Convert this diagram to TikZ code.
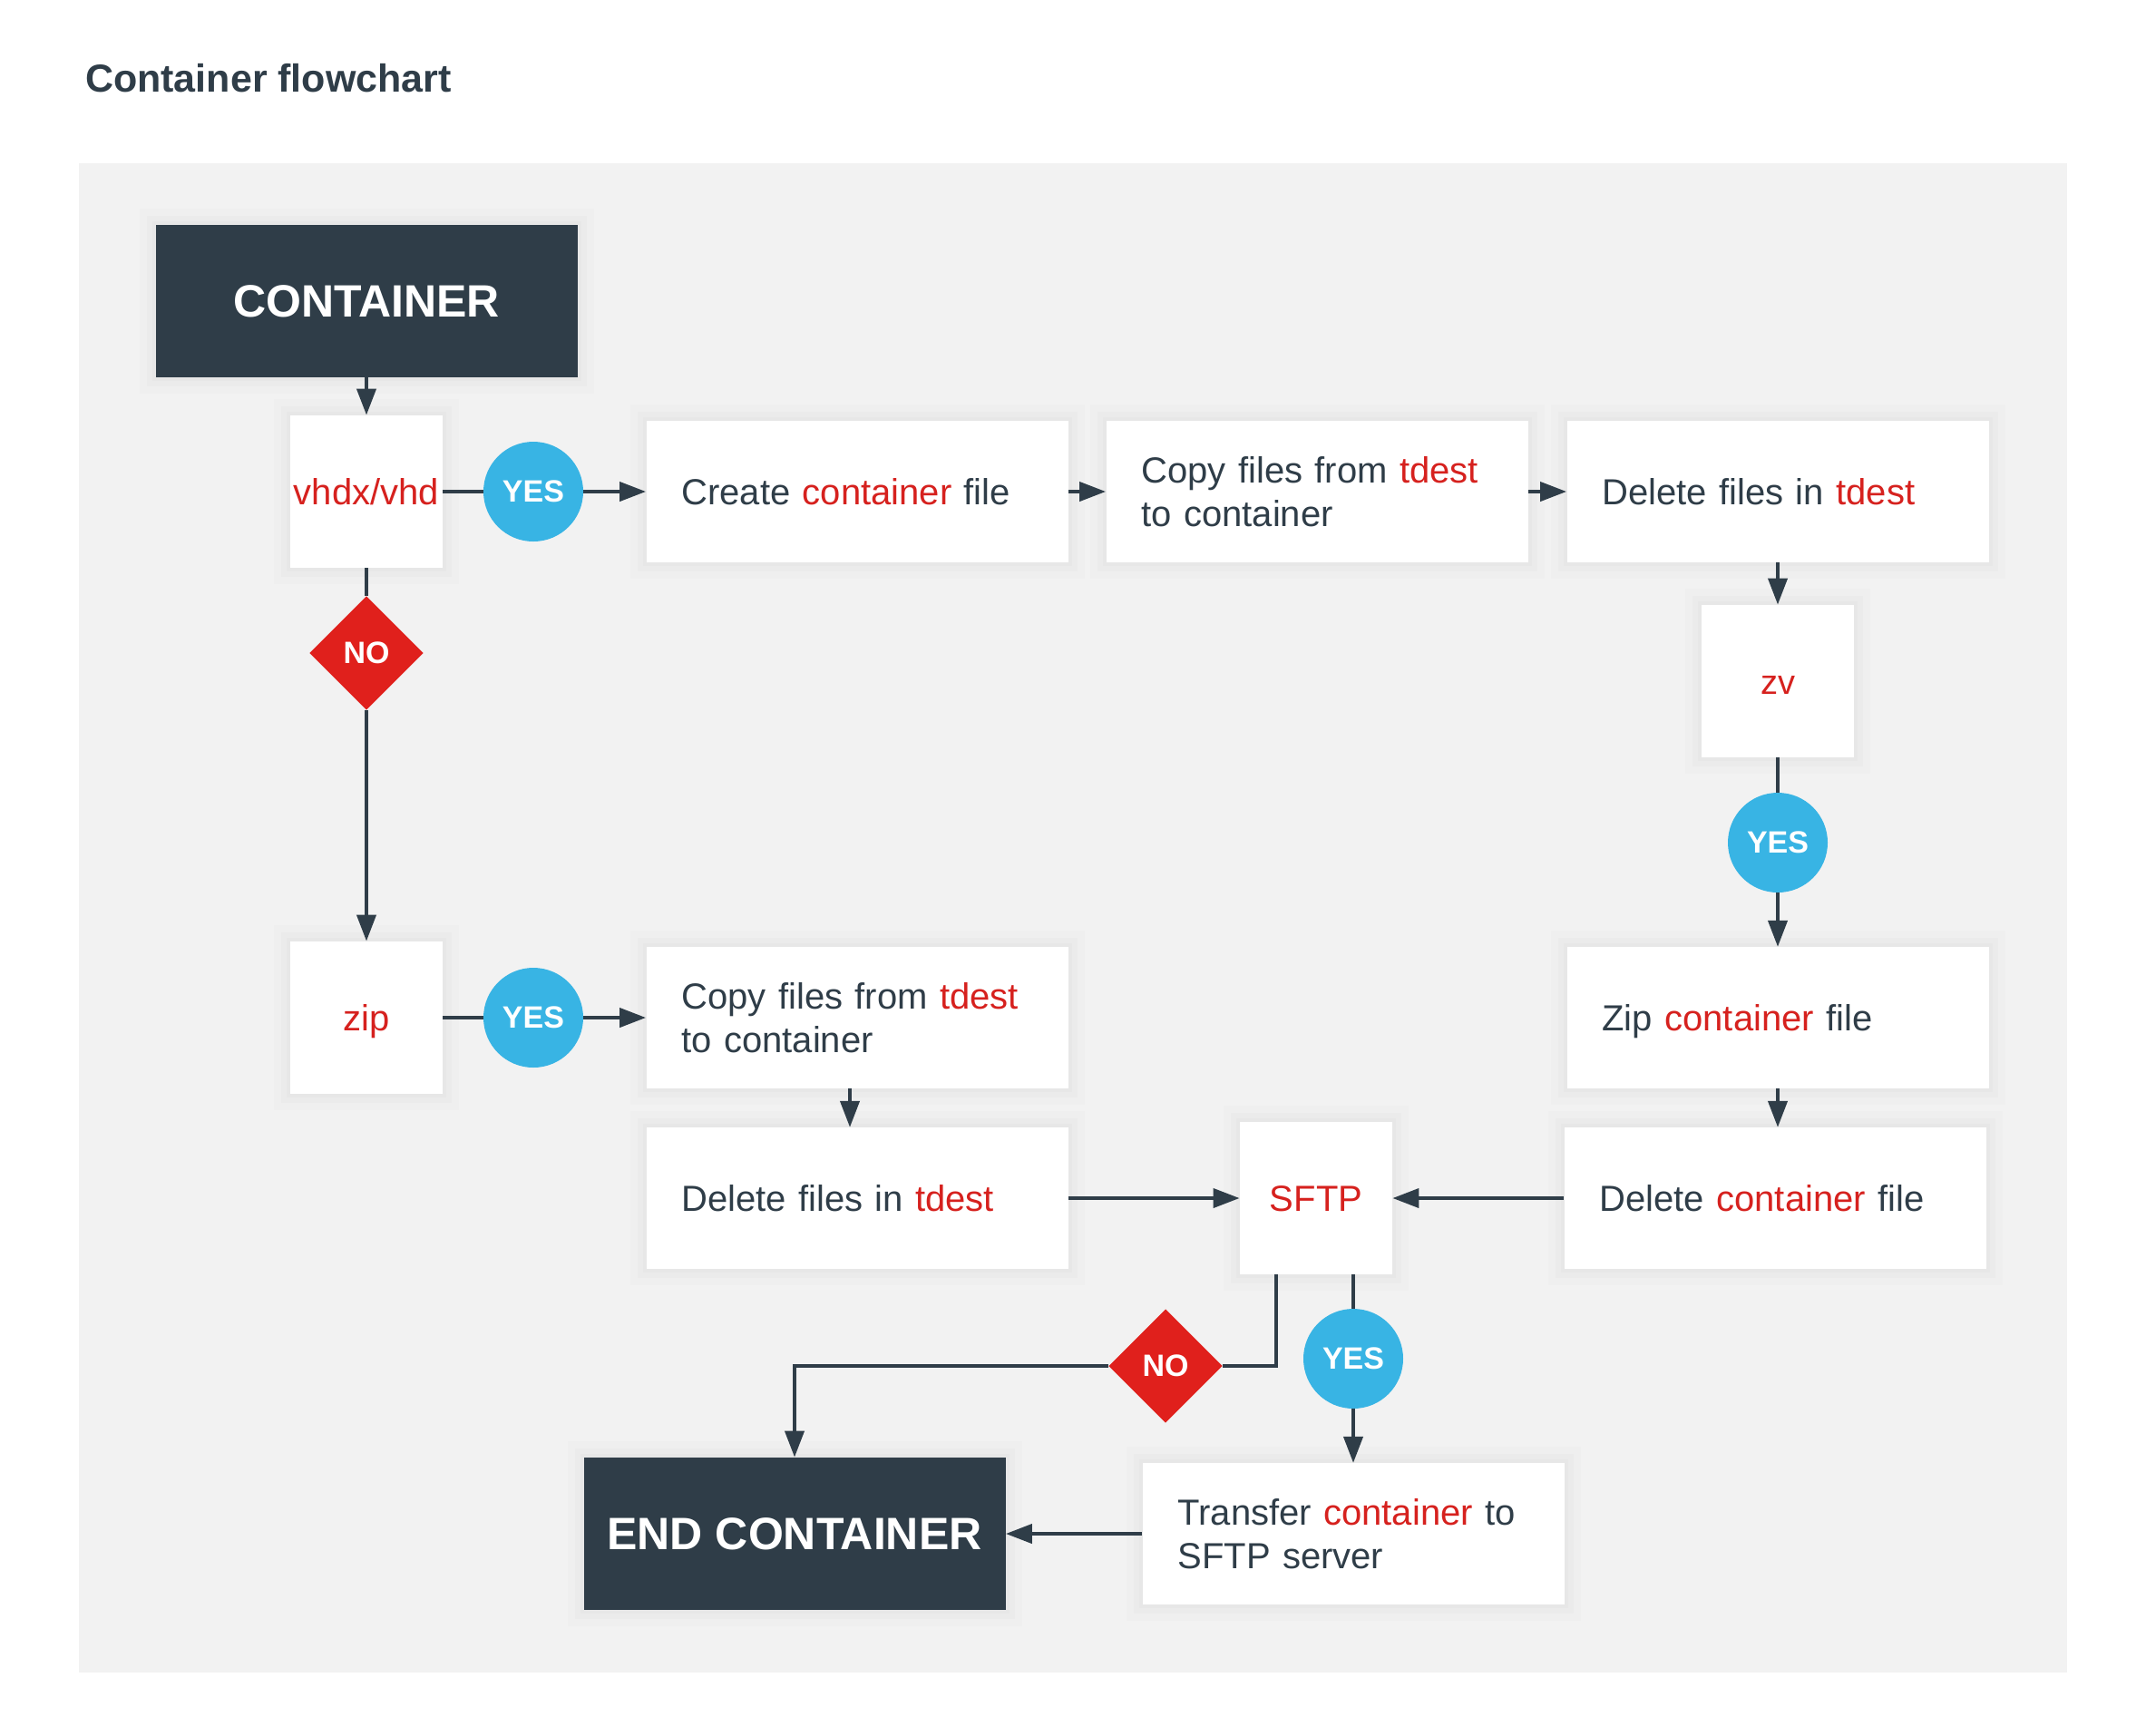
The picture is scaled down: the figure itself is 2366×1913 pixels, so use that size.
\documentclass[tikz,border=0pt]{standalone}
\usepackage{fontspec}
\setmainfont{Liberation Sans}
\usetikzlibrary{positioning,shapes.geometric,arrows.meta}
\definecolor{ink}{RGB}{47,61,72}
\definecolor{hired}{RGB}{214,33,30}
\definecolor{nored}{RGB}{224,32,28}
\definecolor{yesblue}{RGB}{56,180,228}
\definecolor{panel}{RGB}{242,242,242}
\newcommand{\hi}[1]{\textcolor{hired}{#1}}

\begin{document}
\begin{tikzpicture}[
    x=0.5pt, y=-0.5pt,
    halo/.style={%
      preaction={draw=black, draw opacity=0.012, line width=18pt},
      preaction={draw=black, draw opacity=0.014, line width=10pt},
      preaction={draw=black, draw opacity=0.016, line width=4pt},
    },
    task/.style={%
      halo,
      fill=white,
      rectangle,
      minimum width=232.5pt,
      minimum height=77.75pt,
      text width=193.5pt,
      inner xsep=19.5pt,
      inner ysep=0pt,
      align=left,
      text=ink,
      font=\fontsize{20}{24.2}\selectfont,
    },
    test/.style={%
      halo,
      fill=white,
      rectangle,
      minimum size=84pt,
      inner sep=0pt,
      text height=14.3pt,
      text depth=0pt,
      text=hired,
      font=\fontsize{20}{24}\selectfont,
    },
    term/.style={%
      halo,
      fill=ink,
      rectangle,
      minimum width=232.5pt,
      minimum height=84pt,
      text=white,
      font=\fontsize{25}{30}\selectfont\bfseries,
    },
    yesmark/.style={%
      fill=yesblue,
      circle,
      minimum size=55pt,
      inner sep=0pt,
      text=white,
      font=\fontsize{17}{20}\selectfont\bfseries,
    },
    nomark/.style={%
      fill=nored,
      diamond,
      aspect=1,
      minimum size=62.7pt,
      inner sep=0pt,
      text=white,
      font=\fontsize{17}{20}\selectfont\bfseries,
    },
    link/.style={draw=ink, line width=2pt},
    flow/.style={link, -{Triangle[length=14.5pt,width=10.5pt]}},
  ]
    \useasboundingbox (0,0) rectangle (2366,1913);
    \fill [panel] (87,179.5) rectangle (2279,1843.5);
    \node [anchor=base west, text=ink, font=\fontsize{21.5}{26}\selectfont\bfseries] (title) at (87,101) {Container flowchart};

    \node [term] (A) at (404,332) {CONTAINER};
    \path (A) ++(0,210) node [test] (B) {vhdx/vhd};
    \path (B) ++(184,0) node [yesmark] (C) {YES};
    \path (C) ++(357,0) node [task] (D) {Create \hi{container} file};
    \path (D) ++(507,0) node [task] (E) {Copy files from \hi{tdest}\\to container};
    \path (E) ++(508,0) node [task] (F) {Delete files in \hi{tdest}};
    \path (F) ++(0,209) node [test, font=\fontsize{19}{22}\selectfont] (G) {zv};
    \path (G) ++(0,178) node [yesmark] (H) {YES};
    \path (H) ++(0,193) node [task, text depth=0pt] (I) {Zip \hi{container} file};
    \path (I) ++(-3,199) node [task] (J) {Delete \hi{container} file};
    \path (J) ++(-506,0) node [test] (K) {SFTP};
    \path (K) ++(-506,0) node [task] (L) {Delete files in \hi{tdest}};
    \path (L) ++(0,-199) node [task] (M) {Copy files from \hi{tdest}\\to container};
    \path (M) ++(-357,0) node [yesmark] (N) {YES};
    \path (N) ++(-184,0) node [test] (O) {zip};
    \path (B) ++(0,178) node [nomark] (P) {NO};
    \path (K) ++(-166,185) node [nomark] (Q) {NO};
    \path (K) ++(41,177) node [yesmark] (R) {YES};
    \path (R) ++(0,193) node [task] (S) {Transfer \hi{container} to\\SFTP server};
    \path (S) ++(-616,0) node [term] (T) {END CONTAINER};

    \draw [flow] (A) -- (B);
    \draw [link] (B) -- (C);
    \draw [flow] (C) -- (D);
    \draw [flow] (D) -- (E);
    \draw [flow] (E) -- (F);
    \draw [flow] (F) -- (G);
    \draw [link] (G) -- (H);
    \draw [flow] (H) -- (I);
    \draw [flow] (I.south) -- (I.south |- J.north);
    \draw [flow] (J) -- (K);
    \draw [link] (B) -- (P);
    \draw [flow] (P) -- (O);
    \draw [link] (O) -- (N);
    \draw [flow] (N) -- (M);
    \draw [flow] ([xshift=-4pt]M.south) -- ([xshift=-4pt]L.north);
    \draw [flow] (L) -- (K);
    \draw [link] ([xshift=-22pt]K.south) |- (Q);
    \draw [flow] (Q) -| (T);
    \draw [link] (K.south -| R) -- (R);
    \draw [flow] (R) -- (S);
    \draw [flow] (S) -- (T);
\end{tikzpicture}
\end{document}
